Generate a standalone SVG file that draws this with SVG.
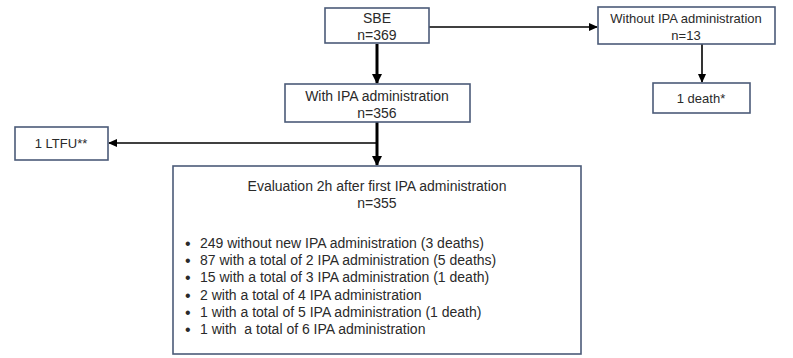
<svg xmlns="http://www.w3.org/2000/svg" width="793" height="358" viewBox="0 0 793 358">
<style>
.box{fill:#fff;stroke:#4b5b78;stroke-width:1.6}
.t{font-family:"Liberation Sans",Arial,sans-serif;font-size:14px;fill:#2a2a2a}
.c{text-anchor:middle}
.s{font-size:13px}
.b{font-size:16px}
.thick{stroke:#000;stroke-width:3;fill:none}
.thin{stroke:#000;stroke-width:1.6;fill:none}
</style>
<defs>
<marker id="ah" markerWidth="10" markerHeight="10" refX="9" refY="5" orient="auto" markerUnits="userSpaceOnUse" viewBox="0 0 10 10">
<path d="M0,0 L10,5 L0,10 z" fill="#000"/>
</marker>
<marker id="ahs" markerWidth="9" markerHeight="8" refX="8" refY="4" orient="auto" markerUnits="userSpaceOnUse" viewBox="0 0 9 8">
<path d="M0,0 L9,4 L0,8 z" fill="#000"/>
</marker>
</defs>
<g id="connectors">
<path class="thick" d="M377,44 V83" marker-end="url(#ah)"/>
<path class="thick" d="M377,122 V165" marker-end="url(#ah)"/>
<path class="thin" d="M377,143 H109" marker-end="url(#ahs)"/>
<path class="thin" d="M429,27 H597" marker-end="url(#ahs)"/>
<path class="thin" d="M702,44 V82" marker-end="url(#ahs)"/>
</g>
<g id="sbe">
<rect class="box" x="325" y="8" width="104" height="35"/>
<text class="t c" x="377" y="23">SBE</text>
<text class="t c" x="377" y="40">n=369</text>
</g>
<g id="with-ipa">
<rect class="box" x="285" y="84" width="185" height="38"/>
<text class="t c" x="377" y="101">With IPA administration</text>
<text class="t c" x="377" y="118">n=356</text>
</g>
<g id="without-ipa">
<rect class="box" x="598" y="7" width="177" height="37"/>
<text class="t c s" x="686" y="23">Without IPA administration</text>
<text class="t c s" x="686" y="40">n=13</text>
</g>
<g id="death">
<rect class="box" x="653" y="83" width="97" height="30"/>
<text class="t c s" x="701" y="103">1 death*</text>
</g>
<g id="ltfu">
<rect class="box" x="15" y="127" width="93" height="33"/>
<text class="t c s" x="61" y="148">1 LTFU**</text>
</g>
<g id="evaluation">
<rect class="box" x="173" y="166" width="408" height="188"/>
<text class="t c" x="377" y="191">Evaluation 2h after first IPA administration</text>
<text class="t c" x="377" y="208">n=355</text>
<g class="t">
<text class="b" x="185" y="249">•</text><text x="200" y="248">249 without new IPA administration (3 deaths)</text>
<text class="b" x="185" y="266">•</text><text x="200" y="265">87 with a total of 2 IPA administration (5 deaths)</text>
<text class="b" x="185" y="283">•</text><text x="200" y="282">15 with a total of 3 IPA administration (1 death)</text>
<text class="b" x="185" y="301">•</text><text x="200" y="300">2 with a total of 4 IPA administration</text>
<text class="b" x="185" y="318">•</text><text x="200" y="317">1 with a total of 5 IPA administration (1 death)</text>
<text class="b" x="185" y="335">•</text><text x="200" y="334" xml:space="preserve">1 with  a total of 6 IPA administration</text>
</g>
</g>
</svg>
